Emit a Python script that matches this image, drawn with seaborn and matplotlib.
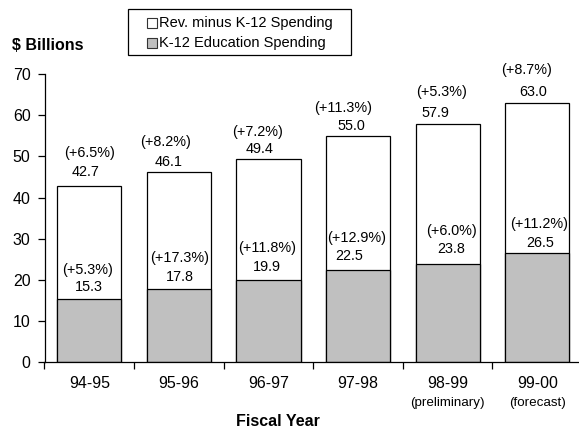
import matplotlib
matplotlib.use("Agg")
import matplotlib.pyplot as plt
from matplotlib.patches import Rectangle
import seaborn as sns
import pandas as pd

# ---- data -------------------------------------------------------------
years = ["94-95", "95-96", "96-97", "97-98", "98-99", "99-00"]
year_notes = ["", "", "", "", "(preliminary)", "(forecast)"]
total_revenue = [42.7, 46.1, 49.4, 55.0, 57.9, 63.0]
k12_spending = [15.3, 17.8, 19.9, 22.5, 23.8, 26.5]
total_growth = ["+6.5%", "+8.2%", "+7.2%", "+11.3%", "+5.3%", "+8.7%"]
k12_growth = ["+5.3%", "+17.3%", "+11.8%", "+12.9%", "+6.0%", "+11.2%"]

# ---- label nudges in pixels (dx shift, dy rise above the bar top) -----
total_dx = [-3.5, -10, -8.5, -7, -12, -4]
total_dy = [14.7, 10.7, 10, 10, 10.5, 11]
total_pct_dx = [0.5, -13, -10.5, -15, -6.3, -11]
total_pct_dy = [33, 30, 27, 28, 32, 33]
k12_dx = [0, 0.7, -1.5, -9.3, 3.7, 2.8]
k12_dy = [12.6, 11.7, 13.6, 13.6, 15, 10]
k12_pct_dx = [-2, 1, -1.5, -1.3, 4, 2]
k12_pct_dy = [29, 30.7, 32, 32, 33, 29]

GRAY = "#c0c0c0"
W, H = 579, 433

sns.set_theme(style="white")
plt.rcParams["font.family"] = ["Liberation Sans", "DejaVu Sans"]

df = pd.DataFrame({"year": years, "total": total_revenue, "k12": k12_spending})

fig = plt.figure(figsize=(W / 100, H / 100), dpi=100)
fig.patch.set_facecolor("white")


def fx(px):
    return px / W


def fy(py):
    return 1 - py / H


ax = fig.add_axes([fx(44.5), fy(362.3), fx(582.1 - 44.5), (362.3 - 74) / H])

sns.barplot(data=df, x="year", y="total", color="white", saturation=1,
            edgecolor="black", linewidth=0.9, width=0.715, errorbar=None, ax=ax)
sns.barplot(data=df, x="year", y="k12", color=GRAY, saturation=1,
            edgecolor="black", linewidth=0.9, width=0.715, errorbar=None, ax=ax)

ax.set_xlim(-0.5, len(years) - 0.5)
ax.set_ylim(0, 70)
ax.set_yticks(range(0, 71, 10))
ax.tick_params(axis="y", length=5, width=0.9, pad=5, labelsize=11.5,
               colors="black", left=True, direction="out")

# category boundaries carry the tick marks, centres carry the labels
ax.set_xticks([i - 0.5 for i in range(len(years) + 1)])
ax.set_xticklabels([])
ax.set_xticks(range(len(years)), minor=True)
ax.set_xticklabels(years, minor=True)
ax.tick_params(axis="x", which="major", length=5, width=0.9, bottom=True,
               direction="out", colors="black")
ax.tick_params(axis="x", which="minor", length=0, pad=10, labelsize=11.5,
               colors="black")
ax.set_xlabel("")
ax.set_ylabel("")

for side in ("top", "right"):
    ax.spines[side].set_visible(False)
for side in ("left", "bottom"):
    ax.spines[side].set_color("black")
    ax.spines[side].set_linewidth(0.9)

for i, note in enumerate(year_notes):
    if note:
        ax.annotate(note, xy=(i, 0), xycoords=("data", "axes fraction"),
                    xytext=(0, -(403 - 362.3)), textcoords="offset pixels",
                    ha="center", va="center", fontsize=9.6, color="black")

# value and growth labels
for i in range(len(years)):
    ax.annotate(f"{total_revenue[i]:.1f}", xy=(i, total_revenue[i]),
                xytext=(total_dx[i], total_dy[i]), textcoords="offset pixels",
                ha="center", va="center", fontsize=10.4, color="black")
    ax.annotate(f"({total_growth[i]})", xy=(i, total_revenue[i]),
                xytext=(total_pct_dx[i], total_pct_dy[i]), textcoords="offset pixels",
                ha="center", va="center", fontsize=10.4, color="black")
    ax.annotate(f"{k12_spending[i]:.1f}", xy=(i, k12_spending[i]),
                xytext=(k12_dx[i], k12_dy[i]), textcoords="offset pixels",
                ha="center", va="center", fontsize=10.4, color="black")
    ax.annotate(f"({k12_growth[i]})", xy=(i, k12_spending[i]),
                xytext=(k12_pct_dx[i], k12_pct_dy[i]), textcoords="offset pixels",
                ha="center", va="center", fontsize=10.4, color="black")

# axis titles
fig.text(fx(12.5), fy(45), "$ Billions", ha="left", va="center",
         fontsize=11.5, fontweight="bold", color="black")
fig.text(fx(278), fy(421), "Fiscal Year", ha="center", va="center",
         fontsize=11.5, fontweight="bold", color="black")

# legend box
fig.patches.append(Rectangle((fx(128), fy(55)), fx(351 - 128), (55 - 8.7) / H,
                             transform=fig.transFigure, facecolor="white",
                             edgecolor="black", linewidth=0.9))
legend_rows = [("Rev. minus K-12 Spending", "white", 22.7),
               ("K-12 Education Spending", GRAY, 43.3)]
for label, fill, yc in legend_rows:
    fig.patches.append(Rectangle((fx(147), fy(yc + 5)), fx(10), 10 / H,
                                 transform=fig.transFigure, facecolor=fill,
                                 edgecolor="#333333", linewidth=0.8))
    fig.text(fx(159), fy(yc), label, ha="left", va="center",
             fontsize=10.5, color="black")

fig.savefig("out.png", dpi=100, facecolor="white")
